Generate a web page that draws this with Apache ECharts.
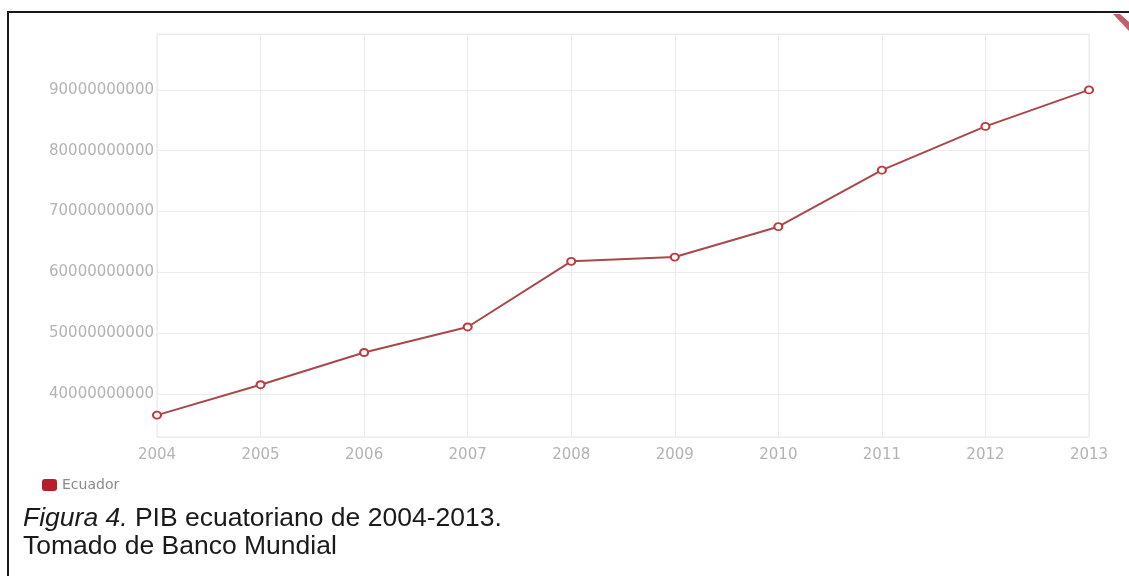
<!DOCTYPE html>
<html>
<head>
<meta charset="utf-8">
<script src="https://cdn.jsdelivr.net/npm/echarts@6/dist/echarts.min.js"></script>
<style>
  html, body { margin: 0; padding: 0; background: #fff; }
  #chart { width: 1129px; height: 576px; }
</style>
</head>
<body>
<div id="chart"></div>
<script>
// GDP of Ecuador (current US$), World Bank
const years = ['2004', '2005', '2006', '2007', '2008', '2009', '2010', '2011', '2012', '2013'];
const gdpEcuador = [36.5e9, 41.5e9, 46.8e9, 51.0e9, 61.8e9, 62.5e9, 67.5e9, 76.8e9, 84.0e9, 90.0e9];
const seriesName = 'Ecuador';
const yMin = 32.9e9;
const yMax = 99.2e9;
const yStep = 10e9;
const captionLine1 = ['Figura 4.', ' PIB ecuatoriano de 2004-2013.'];
const captionLine2 = 'Tomado de Banco Mundial';

const chart = echarts.init(document.getElementById('chart'), null, { renderer: 'canvas' });

const axisFont = { fontFamily: 'DejaVu Sans', fontSize: 15, color: '#b3b3b3' };
const captionFont = 'Liberation Sans, Arial, sans-serif';

chart.setOption({
  backgroundColor: '#ffffff',
  animation: false,
  grid: {
    left: 157, top: 34, right: 40, bottom: 139,
    show: true, borderColor: '#e8e8e8', borderWidth: 1, backgroundColor: 'transparent'
  },
  legend: {
    left: 42, top: 478, padding: 0,
    itemWidth: 15, itemHeight: 12, itemGap: 10,
    textStyle: { fontFamily: 'DejaVu Sans', fontSize: 14, color: '#8a8a8a' },
    data: [{ name: seriesName, icon: 'roundRect', itemStyle: { color: '#b51f2b', borderWidth: 0 } }]
  },
  xAxis: {
    type: 'category',
    data: years,
    boundaryGap: false,
    axisLine: { show: false },
    axisTick: { show: false },
    axisLabel: Object.assign({ margin: 11 }, axisFont),
    splitLine: { show: true, lineStyle: { color: '#ececec', width: 1 } }
  },
  yAxis: {
    type: 'value',
    min: yMin,
    max: yMax,
    splitNumber: 7,
    axisLine: { show: false },
    axisTick: { show: false },
    axisLabel: Object.assign({
      margin: 3,
      formatter: function (v) {
        return Math.abs(v / yStep - Math.round(v / yStep)) < 1e-6 ? String(Math.round(v)) : '';
      }
    }, axisFont),
    splitLine: { show: true, lineStyle: { color: '#ececec', width: 1 } }
  },
  series: [{
    name: seriesName,
    type: 'line',
    data: gdpEcuador,
    symbol: 'emptyCircle',
    symbolSize: [8, 7],
    showAllSymbol: true,
    lineStyle: { color: '#a9484b', width: 2 },
    itemStyle: { color: '#c0393c', borderColor: '#c0393c', borderWidth: 1.5 }
  }],
  graphic: [
    // outer frame
    {
      type: 'rect', silent: true,
      shape: { x: 8, y: 12, width: 1130, height: 600 },
      style: { fill: null, stroke: '#1a1a1a', lineWidth: 2 }
    },
    // clipped toolbar icon in the corner
    {
      type: 'polygon', silent: true,
      shape: { points: [[1113, 14], [1120, 14], [1129, 22], [1129, 31]] },
      style: { fill: '#b5454f', opacity: 0.85 }
    },
    {
      type: 'text', silent: true,
      x: 23, y: 519,
      style: {
        text: '{i|' + captionLine1[0] + '}' + captionLine1[1],
        fontFamily: captionFont,
        fontSize: 26.5, fill: '#1a1a1a',
        verticalAlign: 'middle', align: 'left',
        rich: { i: { fontStyle: 'italic', fontFamily: captionFont, fontSize: 26.5, fill: '#1a1a1a' } }
      }
    },
    {
      type: 'text', silent: true,
      x: 23, y: 547,
      style: {
        text: captionLine2,
        fontFamily: captionFont,
        fontSize: 26.5, fill: '#1a1a1a',
        verticalAlign: 'middle', align: 'left'
      }
    }
  ]
});
</script>
</body>
</html>
